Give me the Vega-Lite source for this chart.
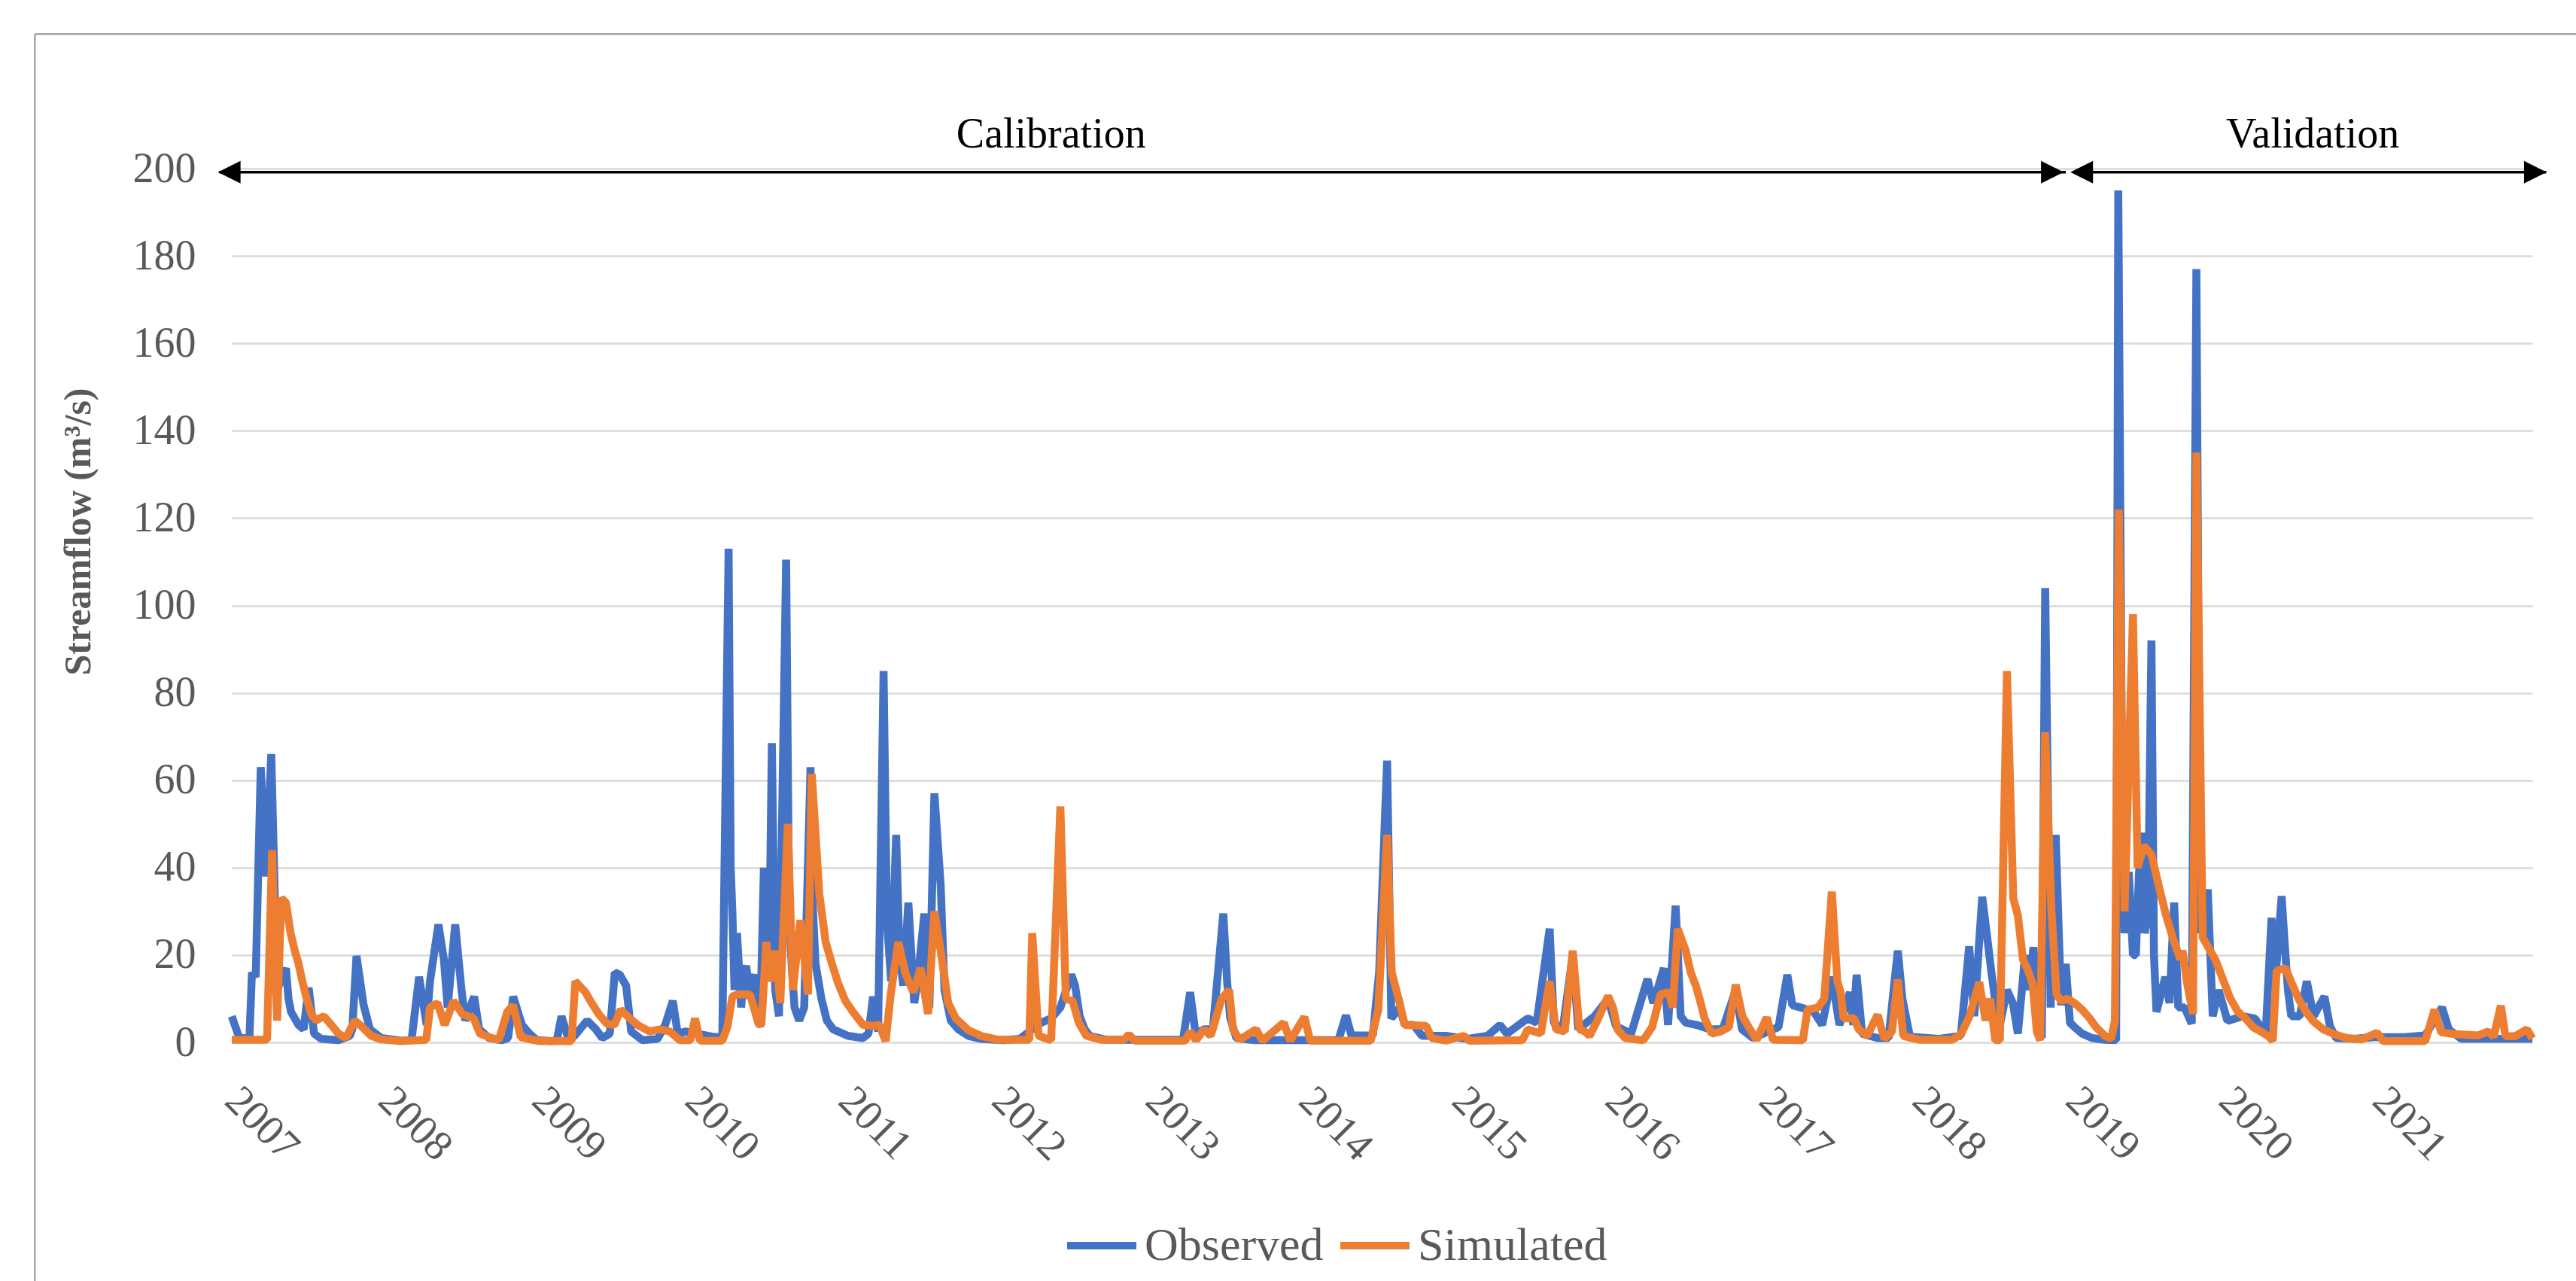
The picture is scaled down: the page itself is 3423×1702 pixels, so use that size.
{
"$schema": "https://vega.github.io/schema/vega-lite/v6.json",
"width": 3057, "height": 1161,
"autosize": {"type": "none"},
"padding": {"left": 308, "top": 224, "right": 58, "bottom": 317},
"background": "white",
"config": {"view": {"stroke": null}, "font": "Liberation Serif"},
"datasets": {
"obs": [
{"date":"2007-01-01","flow":6},{"date":"2007-01-19","flow":1},{"date":"2007-02-12","flow":1},{"date":"2007-02-18","flow":16},{"date":"2007-02-27","flow":15},{"date":"2007-03-11","flow":63},{"date":"2007-03-23","flow":38},{"date":"2007-04-05","flow":66},{"date":"2007-04-19","flow":12},{"date":"2007-05-10","flow":17},{"date":"2007-05-16","flow":10},{"date":"2007-05-22","flow":7},{"date":"2007-06-09","flow":4},{"date":"2007-06-21","flow":3},{"date":"2007-07-03","flow":12.5},{"date":"2007-07-16","flow":2},{"date":"2007-08-02","flow":0.8},{"date":"2007-09-12","flow":0.5},{"date":"2007-10-09","flow":1.5},{"date":"2007-10-15","flow":3},{"date":"2007-10-25","flow":19.8},{"date":"2007-11-11","flow":8.5},{"date":"2007-11-26","flow":3},{"date":"2007-12-23","flow":1},
{"date":"2008-02-09","flow":0.4},{"date":"2008-03-04","flow":0.5},{"date":"2008-03-22","flow":15},{"date":"2008-04-09","flow":4},{"date":"2008-04-17","flow":14},{"date":"2008-05-07","flow":27},{"date":"2008-05-20","flow":19},{"date":"2008-05-29","flow":8},{"date":"2008-06-16","flow":27},{"date":"2008-07-01","flow":12},{"date":"2008-07-10","flow":5},{"date":"2008-07-31","flow":10.5},{"date":"2008-08-12","flow":3},{"date":"2008-09-05","flow":1},{"date":"2008-10-05","flow":0.5},{"date":"2008-10-20","flow":1},{"date":"2008-11-01","flow":10.5},{"date":"2008-11-22","flow":4},{"date":"2008-12-10","flow":2},{"date":"2008-12-28","flow":0.5},
{"date":"2009-02-01","flow":0.3},{"date":"2009-02-13","flow":0.5},{"date":"2009-02-24","flow":6},{"date":"2009-03-12","flow":1},{"date":"2009-03-27","flow":1.5},{"date":"2009-04-26","flow":5},{"date":"2009-05-17","flow":3},{"date":"2009-06-01","flow":1},{"date":"2009-06-19","flow":2},{"date":"2009-07-01","flow":16},{"date":"2009-07-13","flow":15.5},{"date":"2009-07-28","flow":13},{"date":"2009-08-09","flow":2.5},{"date":"2009-09-05","flow":0.5},{"date":"2009-10-11","flow":0.8},{"date":"2009-10-29","flow":4},{"date":"2009-11-16","flow":9.5},{"date":"2009-11-28","flow":2},{"date":"2009-12-16","flow":2.5},
{"date":"2010-02-19","flow":1.3},{"date":"2010-03-14","flow":1.2},{"date":"2010-03-29","flow":113},{"date":"2010-04-03","flow":40},{"date":"2010-04-07","flow":30},{"date":"2010-04-12","flow":12},{"date":"2010-04-18","flow":25},{"date":"2010-04-28","flow":8},{"date":"2010-05-04","flow":16},{"date":"2010-05-10","flow":17.5},{"date":"2010-05-19","flow":10},{"date":"2010-05-25","flow":14},{"date":"2010-05-31","flow":15.5},{"date":"2010-06-12","flow":3.5},{"date":"2010-06-21","flow":40},{"date":"2010-06-26","flow":20},{"date":"2010-07-03","flow":15},{"date":"2010-07-10","flow":68.5},{"date":"2010-07-18","flow":12},{"date":"2010-07-27","flow":6},{"date":"2010-08-13","flow":110.5},{"date":"2010-08-20","flow":30},{"date":"2010-08-26","flow":18},{"date":"2010-09-02","flow":8},{"date":"2010-09-13","flow":5},{"date":"2010-09-25","flow":8},{"date":"2010-10-10","flow":63},{"date":"2010-10-16","flow":30},{"date":"2010-10-22","flow":18},{"date":"2010-11-05","flow":10},{"date":"2010-11-18","flow":5},{"date":"2010-12-03","flow":3},
{"date":"2011-01-07","flow":1.5},{"date":"2011-02-12","flow":1},{"date":"2011-02-25","flow":2},{"date":"2011-03-08","flow":10.5},{"date":"2011-03-20","flow":2.5},{"date":"2011-04-02","flow":85},{"date":"2011-04-10","flow":28},{"date":"2011-04-20","flow":14},{"date":"2011-05-02","flow":47.5},{"date":"2011-05-10","flow":20},{"date":"2011-05-19","flow":13},{"date":"2011-05-31","flow":32},{"date":"2011-06-14","flow":9},{"date":"2011-06-22","flow":14},{"date":"2011-07-08","flow":29.5},{"date":"2011-07-20","flow":8},{"date":"2011-08-01","flow":57},{"date":"2011-08-16","flow":36},{"date":"2011-08-25","flow":12},{"date":"2011-09-09","flow":5},{"date":"2011-09-27","flow":3},{"date":"2011-10-21","flow":1.5},{"date":"2011-11-20","flow":0.8},
{"date":"2012-01-12","flow":0.5},{"date":"2012-02-20","flow":0.8},{"date":"2012-03-21","flow":3},{"date":"2012-04-11","flow":4.5},{"date":"2012-05-05","flow":5.5},{"date":"2012-05-27","flow":8},{"date":"2012-06-22","flow":15.5},{"date":"2012-07-01","flow":13},{"date":"2012-07-12","flow":6},{"date":"2012-07-24","flow":3},{"date":"2012-08-05","flow":1.5},{"date":"2012-09-15","flow":0.6},
{"date":"2013-03-15","flow":0.6},{"date":"2013-04-01","flow":11.5},{"date":"2013-04-14","flow":2},{"date":"2013-05-04","flow":3},{"date":"2013-05-25","flow":3},{"date":"2013-06-19","flow":29.5},{"date":"2013-06-28","flow":14},{"date":"2013-07-05","flow":5.7},{"date":"2013-07-20","flow":1},{"date":"2013-09-01","flow":0.5},
{"date":"2014-03-20","flow":0.5},{"date":"2014-04-07","flow":6.2},{"date":"2014-04-20","flow":1.6},{"date":"2014-06-10","flow":1.6},{"date":"2014-06-25","flow":16},{"date":"2014-07-14","flow":64.5},{"date":"2014-07-24","flow":5.5},{"date":"2014-08-13","flow":8},{"date":"2014-08-25","flow":4},{"date":"2014-09-15","flow":4},{"date":"2014-10-05","flow":1.5},{"date":"2014-12-01","flow":1.5},
{"date":"2015-01-20","flow":0.8},{"date":"2015-03-10","flow":1.5},{"date":"2015-04-09","flow":4},{"date":"2015-04-25","flow":2},{"date":"2015-06-14","flow":5.5},{"date":"2015-07-05","flow":4.5},{"date":"2015-08-05","flow":26},{"date":"2015-08-15","flow":4.5},{"date":"2015-09-05","flow":3},{"date":"2015-09-29","flow":20},{"date":"2015-10-12","flow":3},{"date":"2015-11-20","flow":6},{"date":"2015-12-22","flow":10},
{"date":"2016-01-10","flow":3.7},{"date":"2016-02-15","flow":2},{"date":"2016-03-25","flow":14.5},{"date":"2016-04-08","flow":9},{"date":"2016-05-03","flow":17},{"date":"2016-05-13","flow":4},{"date":"2016-05-31","flow":31.3},{"date":"2016-06-12","flow":6},{"date":"2016-06-24","flow":4.5},{"date":"2016-07-20","flow":4},{"date":"2016-08-20","flow":3},{"date":"2016-09-20","flow":3},{"date":"2016-10-21","flow":12},{"date":"2016-11-05","flow":3},{"date":"2016-12-01","flow":1},
{"date":"2017-01-31","flow":3.5},{"date":"2017-02-21","flow":15.5},{"date":"2017-03-05","flow":8.5},{"date":"2017-03-25","flow":8},{"date":"2017-04-25","flow":7},{"date":"2017-05-15","flow":4},{"date":"2017-06-07","flow":15},{"date":"2017-06-25","flow":4},{"date":"2017-07-20","flow":11.5},{"date":"2017-07-28","flow":4},{"date":"2017-08-05","flow":15.5},{"date":"2017-08-18","flow":2},{"date":"2017-09-24","flow":1},{"date":"2017-10-20","flow":1},{"date":"2017-11-11","flow":21},{"date":"2017-11-22","flow":10},{"date":"2017-12-10","flow":1.3},
{"date":"2018-02-15","flow":0.8},{"date":"2018-04-10","flow":1.5},{"date":"2018-04-30","flow":22},{"date":"2018-05-12","flow":6},{"date":"2018-05-31","flow":33.3},{"date":"2018-06-12","flow":24},{"date":"2018-06-22","flow":16},{"date":"2018-07-10","flow":3},{"date":"2018-07-29","flow":12},{"date":"2018-08-12","flow":9},{"date":"2018-08-24","flow":2},{"date":"2018-09-10","flow":20},{"date":"2018-09-20","flow":12},{"date":"2018-09-30","flow":21.8},{"date":"2018-10-12","flow":6},{"date":"2018-10-20","flow":1},{"date":"2018-10-28","flow":104},{"date":"2018-11-10","flow":8},{"date":"2018-11-22","flow":47.5},{"date":"2018-12-05","flow":8.5},{"date":"2018-12-16","flow":18},{"date":"2018-12-26","flow":4.5},
{"date":"2019-01-06","flow":3.5},{"date":"2019-01-24","flow":2},{"date":"2019-02-17","flow":1},{"date":"2019-03-19","flow":0.6},{"date":"2019-04-15","flow":0.5},{"date":"2019-04-20","flow":195},{"date":"2019-04-24","flow":136},{"date":"2019-04-30","flow":40},{"date":"2019-05-05","flow":25},{"date":"2019-05-15","flow":39},{"date":"2019-05-25","flow":20},{"date":"2019-06-01","flow":20},{"date":"2019-06-08","flow":38},{"date":"2019-06-14","flow":48},{"date":"2019-06-22","flow":25},{"date":"2019-06-30","flow":30},{"date":"2019-07-08","flow":92},{"date":"2019-07-14","flow":20},{"date":"2019-07-20","flow":7},{"date":"2019-08-10","flow":15},{"date":"2019-08-20","flow":9},{"date":"2019-08-31","flow":32},{"date":"2019-09-10","flow":8},{"date":"2019-09-25","flow":8},{"date":"2019-10-12","flow":4.3},{"date":"2019-10-23","flow":177},{"date":"2019-11-01","flow":25},{"date":"2019-11-19","flow":35},{"date":"2019-12-01","flow":6},{"date":"2019-12-15","flow":12},
{"date":"2020-01-05","flow":4.9},{"date":"2020-02-10","flow":6},{"date":"2020-03-10","flow":5.5},{"date":"2020-04-05","flow":2},{"date":"2020-04-19","flow":28.5},{"date":"2020-04-28","flow":14},{"date":"2020-05-13","flow":33.5},{"date":"2020-05-20","flow":23},{"date":"2020-05-28","flow":12},{"date":"2020-06-05","flow":6},{"date":"2020-06-25","flow":6},{"date":"2020-07-12","flow":14},{"date":"2020-07-28","flow":6},{"date":"2020-08-23","flow":10.5},{"date":"2020-09-05","flow":3.7},{"date":"2020-09-20","flow":1},{"date":"2020-11-01","flow":0.8},{"date":"2020-12-20","flow":1.2},
{"date":"2021-03-01","flow":1.2},{"date":"2021-04-20","flow":1.6},{"date":"2021-05-30","flow":8},{"date":"2021-06-15","flow":3},{"date":"2021-07-15","flow":0.8},{"date":"2021-12-31","flow":0.8}
],
"sim": [
{"date":"2007-01-01","flow":0.6},{"date":"2007-03-26","flow":0.6},{"date":"2007-04-07","flow":44},{"date":"2007-04-19","flow":5},{"date":"2007-04-29","flow":33},{"date":"2007-05-10","flow":32},{"date":"2007-05-21","flow":25},{"date":"2007-05-31","flow":21},{"date":"2007-06-09","flow":18},{"date":"2007-06-18","flow":14},{"date":"2007-06-27","flow":10.5},{"date":"2007-07-09","flow":6.5},{"date":"2007-07-21","flow":5},{"date":"2007-08-08","flow":6},{"date":"2007-08-26","flow":4},{"date":"2007-09-12","flow":2},{"date":"2007-09-30","flow":1},{"date":"2007-10-21","flow":5},{"date":"2007-11-08","flow":3.5},{"date":"2007-11-29","flow":1.5},{"date":"2007-12-23","flow":0.7},
{"date":"2008-02-08","flow":0.3},{"date":"2008-04-08","flow":0.6},{"date":"2008-04-17","flow":8},{"date":"2008-05-05","flow":9},{"date":"2008-05-22","flow":4},{"date":"2008-06-12","flow":9.5},{"date":"2008-07-03","flow":6.5},{"date":"2008-07-30","flow":5.5},{"date":"2008-08-14","flow":2},{"date":"2008-09-10","flow":1},{"date":"2008-09-28","flow":0.6},{"date":"2008-10-18","flow":7},{"date":"2008-11-01","flow":8.5},{"date":"2008-11-19","flow":1.2},
{"date":"2009-01-02","flow":0.3},{"date":"2009-03-20","flow":0.3},{"date":"2009-03-29","flow":14},{"date":"2009-04-22","flow":11.5},{"date":"2009-05-07","flow":9},{"date":"2009-05-25","flow":6.3},{"date":"2009-06-12","flow":4.3},{"date":"2009-06-30","flow":4},{"date":"2009-07-15","flow":7.5},{"date":"2009-08-06","flow":5.5},{"date":"2009-08-24","flow":4},{"date":"2009-09-22","flow":2.5},{"date":"2009-10-16","flow":3},{"date":"2009-11-09","flow":2.5},{"date":"2009-12-03","flow":0.5},{"date":"2009-12-28","flow":0.5},
{"date":"2010-01-08","flow":5.5},{"date":"2010-01-20","flow":0.4},{"date":"2010-03-14","flow":0.4},{"date":"2010-03-26","flow":3.5},{"date":"2010-04-07","flow":10.5},{"date":"2010-04-19","flow":11},{"date":"2010-05-19","flow":11},{"date":"2010-06-08","flow":4.3},{"date":"2010-06-15","flow":4},{"date":"2010-06-27","flow":23},{"date":"2010-07-05","flow":14},{"date":"2010-07-18","flow":21},{"date":"2010-07-30","flow":9},{"date":"2010-08-17","flow":50},{"date":"2010-08-29","flow":12},{"date":"2010-09-16","flow":28},{"date":"2010-10-04","flow":11},{"date":"2010-10-13","flow":61.5},{"date":"2010-10-31","flow":34},{"date":"2010-11-15","flow":23},{"date":"2010-11-30","flow":18},{"date":"2010-12-15","flow":13.5},
{"date":"2011-01-01","flow":9.5},{"date":"2011-01-19","flow":7},{"date":"2011-02-12","flow":4},{"date":"2011-03-08","flow":3.8},{"date":"2011-03-23","flow":4},{"date":"2011-04-07","flow":0.3},{"date":"2011-04-19","flow":11},{"date":"2011-05-07","flow":23},{"date":"2011-05-25","flow":15.5},{"date":"2011-06-12","flow":11.5},{"date":"2011-06-29","flow":17},{"date":"2011-07-17","flow":6.5},{"date":"2011-08-01","flow":30},{"date":"2011-08-16","flow":21},{"date":"2011-09-03","flow":9},{"date":"2011-09-21","flow":5.5},{"date":"2011-10-21","flow":2.8},{"date":"2011-11-20","flow":1.5},
{"date":"2012-01-01","flow":0.6},{"date":"2012-03-14","flow":0.6},{"date":"2012-03-21","flow":25},{"date":"2012-04-05","flow":1.5},{"date":"2012-05-05","flow":0.5},{"date":"2012-05-27","flow":54},{"date":"2012-06-09","flow":10},{"date":"2012-06-25","flow":9.5},{"date":"2012-07-10","flow":4.5},{"date":"2012-07-28","flow":1.5},{"date":"2012-09-01","flow":0.6},{"date":"2012-10-25","flow":0.6},{"date":"2012-11-06","flow":1.8},{"date":"2012-11-20","flow":0.4},
{"date":"2013-03-20","flow":0.4},{"date":"2013-04-01","flow":2.5},{"date":"2013-04-15","flow":0.5},{"date":"2013-05-04","flow":3},{"date":"2013-05-20","flow":1.5},{"date":"2013-06-15","flow":10},{"date":"2013-07-03","flow":12},{"date":"2013-07-12","flow":3},{"date":"2013-07-28","flow":0.6},{"date":"2013-09-05","flow":3},{"date":"2013-09-20","flow":0.4},{"date":"2013-11-10","flow":4.5},{"date":"2013-11-25","flow":0.4},{"date":"2013-12-29","flow":5.8},
{"date":"2014-01-12","flow":0.4},{"date":"2014-06-05","flow":0.4},{"date":"2014-06-23","flow":7.5},{"date":"2014-07-14","flow":47.5},{"date":"2014-07-25","flow":16},{"date":"2014-08-13","flow":9},{"date":"2014-08-25","flow":4},{"date":"2014-10-15","flow":3.8},{"date":"2014-10-28","flow":1},{"date":"2014-12-01","flow":0.4},
{"date":"2015-01-13","flow":1.5},{"date":"2015-01-25","flow":0.4},{"date":"2015-06-01","flow":0.5},{"date":"2015-06-14","flow":3},{"date":"2015-07-15","flow":2},{"date":"2015-08-05","flow":14},{"date":"2015-08-20","flow":3},{"date":"2015-09-10","flow":2.5},{"date":"2015-09-29","flow":21},{"date":"2015-10-15","flow":3},{"date":"2015-10-28","flow":2.5},{"date":"2015-11-08","flow":1.5},{"date":"2015-11-28","flow":5.3},{"date":"2015-12-22","flow":10.6},
{"date":"2016-01-03","flow":8},{"date":"2016-01-14","flow":2.9},{"date":"2016-02-01","flow":1},{"date":"2016-03-15","flow":0.5},{"date":"2016-04-05","flow":3.5},{"date":"2016-04-25","flow":11},{"date":"2016-05-15","flow":11.5},{"date":"2016-05-24","flow":8},{"date":"2016-06-05","flow":26},{"date":"2016-06-24","flow":21},{"date":"2016-07-06","flow":16},{"date":"2016-07-18","flow":13},{"date":"2016-07-27","flow":10},{"date":"2016-08-08","flow":5.5},{"date":"2016-08-25","flow":2},{"date":"2016-09-15","flow":2.5},{"date":"2016-10-05","flow":3.5},{"date":"2016-10-21","flow":13.2},{"date":"2016-11-06","flow":6},{"date":"2016-11-21","flow":3.5},{"date":"2016-12-10","flow":0.6},
{"date":"2017-01-03","flow":5.7},{"date":"2017-01-18","flow":0.6},{"date":"2017-03-30","flow":0.5},{"date":"2017-04-10","flow":7.5},{"date":"2017-05-05","flow":8},{"date":"2017-05-20","flow":10},{"date":"2017-06-07","flow":34.5},{"date":"2017-06-20","flow":14},{"date":"2017-06-28","flow":11.5},{"date":"2017-07-05","flow":5.5},{"date":"2017-07-30","flow":5.5},{"date":"2017-08-10","flow":3},{"date":"2017-08-30","flow":1.5},{"date":"2017-09-24","flow":6.3},{"date":"2017-10-10","flow":0.8},{"date":"2017-10-28","flow":2.5},{"date":"2017-11-11","flow":14.4},{"date":"2017-11-24","flow":1.5},
{"date":"2018-01-01","flow":0.6},{"date":"2018-03-20","flow":0.6},{"date":"2018-04-10","flow":1.8},{"date":"2018-05-01","flow":6},{"date":"2018-05-24","flow":13.8},{"date":"2018-06-08","flow":5},{"date":"2018-06-19","flow":10},{"date":"2018-07-01","flow":0.5},{"date":"2018-07-12","flow":0.5},{"date":"2018-07-29","flow":85},{"date":"2018-08-13","flow":33},{"date":"2018-08-24","flow":29},{"date":"2018-09-05","flow":19},{"date":"2018-09-17","flow":16.5},{"date":"2018-09-28","flow":13.5},{"date":"2018-10-08","flow":2.5},{"date":"2018-10-16","flow":0.5},{"date":"2018-10-28","flow":71},{"date":"2018-11-12","flow":30},{"date":"2018-11-24","flow":11},{"date":"2018-12-05","flow":9.5},{"date":"2018-12-20","flow":10},
{"date":"2019-01-06","flow":9},{"date":"2019-01-24","flow":7.5},{"date":"2019-02-11","flow":5.5},{"date":"2019-02-26","flow":3.5},{"date":"2019-03-19","flow":1.5},{"date":"2019-04-03","flow":0.8},{"date":"2019-04-12","flow":5},{"date":"2019-04-21","flow":122},{"date":"2019-05-05","flow":30},{"date":"2019-05-25","flow":98},{"date":"2019-06-05","flow":40},{"date":"2019-06-20","flow":45},{"date":"2019-07-08","flow":43},{"date":"2019-07-25","flow":36},{"date":"2019-08-12","flow":29},{"date":"2019-08-31","flow":23},{"date":"2019-09-15","flow":19},{"date":"2019-09-20","flow":21},{"date":"2019-10-01","flow":13.5},{"date":"2019-10-15","flow":6.5},{"date":"2019-10-23","flow":135},{"date":"2019-11-07","flow":24},{"date":"2019-11-19","flow":22},{"date":"2019-12-07","flow":19},{"date":"2019-12-25","flow":14.5},
{"date":"2020-01-12","flow":10},{"date":"2020-01-30","flow":7},{"date":"2020-02-17","flow":5.5},{"date":"2020-03-06","flow":3.5},{"date":"2020-03-24","flow":2.5},{"date":"2020-04-10","flow":1.5},{"date":"2020-04-22","flow":0.4},{"date":"2020-05-01","flow":16.4},{"date":"2020-05-22","flow":17},{"date":"2020-06-04","flow":14},{"date":"2020-06-22","flow":10},{"date":"2020-07-10","flow":7},{"date":"2020-07-28","flow":4.8},{"date":"2020-08-20","flow":3},{"date":"2020-09-15","flow":1.9},{"date":"2020-10-15","flow":1},{"date":"2020-11-20","flow":0.7},{"date":"2020-12-26","flow":2.2},
{"date":"2021-01-10","flow":0.3},{"date":"2021-04-20","flow":0.3},{"date":"2021-05-12","flow":7.5},{"date":"2021-05-28","flow":2.3},{"date":"2021-06-30","flow":1.9},{"date":"2021-08-24","flow":1.6},{"date":"2021-09-17","flow":2.5},{"date":"2021-09-30","flow":1.3},{"date":"2021-10-17","flow":8.4},{"date":"2021-10-28","flow":1.4},{"date":"2021-11-20","flow":1.4},{"date":"2021-12-18","flow":3},{"date":"2021-12-31","flow":0.9}
]
},
"encoding": {
"x": {"type": "temporal",
 "scale": {"type": "utc", "domain": [{"year": 2007, "month": 1, "date": 1, "utc": true}, {"year": 2021, "month": 12, "date": 31, "utc": true}], "nice": false},
 "axis": {"format": "%Y", "tickCount": {"interval": "year", "step": 1}, "labelAngle": 45, "labelAlign": "left", "labelBaseline": "middle", "labelPadding": 68, "labelFontSize": 56, "labelColor": "#595959", "labelFont": "Liberation Serif", "ticks": false, "domain": false, "grid": false, "labelOverlap": false, "labelBound": false, "labelFlush": false, "title": null}},
"y": {"type": "quantitative",
 "scale": {"domain": [0, 200], "nice": false, "zero": true},
 "axis": {"values": [0,20,40,60,80,100,120,140,160,180,200], "grid": true, "gridColor": "#D9D9D9", "gridWidth": 2.5, "domain": false, "ticks": false, "labelPadding": 48, "labelFontSize": 56, "labelColor": "#595959", "labelFont": "Liberation Serif",
  "title": "Streamflow (m³/s)", "titleFont": "Liberation Serif", "titleFontSize": 50, "titleFontWeight": "bold", "titleColor": "#595959", "titleX": -204, "titleY": 482, "titleAngle": 270, "titleAlign": "center", "titleBaseline": "middle"}}
},
"layer": [
{"data": {"values": [{"from": "2005-09-19", "to": "2023-06-01"}]},
 "mark": {"type": "rule", "color": "#A6A6A6", "strokeWidth": 2.5, "clip": false},
 "encoding": {"x": {"field": "from", "type": "temporal"}, "x2": {"field": "to"}, "y": {"datum": 230.8}}},
{"data": {"values": [{"from": "2005-09-19"}]},
 "mark": {"type": "rule", "color": "#A6A6A6", "strokeWidth": 2.5, "clip": false},
 "encoding": {"x": {"field": "from", "type": "temporal"}, "y": {"datum": 230.8}, "y2": {"datum": -60}}},
{"data": {"name": "obs"},
 "mark": {"type": "line", "strokeWidth": 10.5, "strokeJoin": "bevel", "clip": false},
 "encoding": {"x": {"field": "date", "type": "temporal"}, "y": {"field": "flow", "type": "quantitative"},
  "color": {"datum": "Observed", "type": "nominal",
   "scale": {"domain": ["Observed", "Simulated"], "range": ["#4472C4", "#ED7D31"]},
   "legend": {"orient": "none", "legendX": 1105, "legendY": 1380, "direction": "horizontal", "title": null, "symbolType": "stroke", "symbolStrokeWidth": 10, "symbolSize": 8464, "labelFontSize": 62, "labelLimit": 500, "labelColor": "#595959", "labelFont": "Liberation Serif", "columnPadding": 2, "labelOffset": 6}}}},
{"data": {"name": "sim"},
 "mark": {"type": "line", "strokeWidth": 10.5, "strokeJoin": "bevel", "clip": false},
 "encoding": {"x": {"field": "date", "type": "temporal"}, "y": {"field": "flow", "type": "quantitative"},
  "color": {"datum": "Simulated", "type": "nominal"}}},
{"mark": {"type": "rule", "color": "black", "strokeWidth": 6, "clip": false},
 "encoding": {"x": {"datum": {"year": 2018, "month": 12, "date": 24, "utc": true}, "type": "temporal"}, "y": {"datum": 0}, "y2": {"datum": 206.4}}},
{"data": {"values": [{"start": "2006-12-02", "end": "2018-12-16"}, {"start": "2019-01-04", "end": "2022-02-02"}]},
 "mark": {"type": "rule", "color": "black", "strokeWidth": 3.5, "clip": false},
 "encoding": {"x": {"field": "start", "type": "temporal"}, "x2": {"field": "end"}, "y": {"datum": 199.2}}},
{"data": {"values": [{"date": "2006-12-26"}, {"date": "2019-01-23"}]},
 "mark": {"type": "point", "shape": "M-1,0L1,-1L1,1Z", "size": 900, "filled": true, "color": "black", "opacity": 1, "strokeWidth": 0, "clip": false},
 "encoding": {"x": {"field": "date", "type": "temporal"}, "y": {"datum": 199.2}}},
{"data": {"values": [{"date": "2018-11-14"}, {"date": "2022-01-07"}]},
 "mark": {"type": "point", "shape": "M1,0L-1,-1L-1,1Z", "size": 900, "filled": true, "color": "black", "opacity": 1, "strokeWidth": 0, "clip": false},
 "encoding": {"x": {"field": "date", "type": "temporal"}, "y": {"datum": 199.2}}},
{"data": {"values": [{"label": "Calibration", "date": "2012-05-05"}, {"label": "Validation", "date": "2020-07-26"}]},
 "mark": {"type": "text", "font": "Liberation Serif", "fontSize": 56, "color": "black", "align": "center", "baseline": "middle", "clip": false},
 "encoding": {"x": {"field": "date", "type": "temporal"}, "y": {"datum": 207.8}, "text": {"field": "label"}}}
]
}
